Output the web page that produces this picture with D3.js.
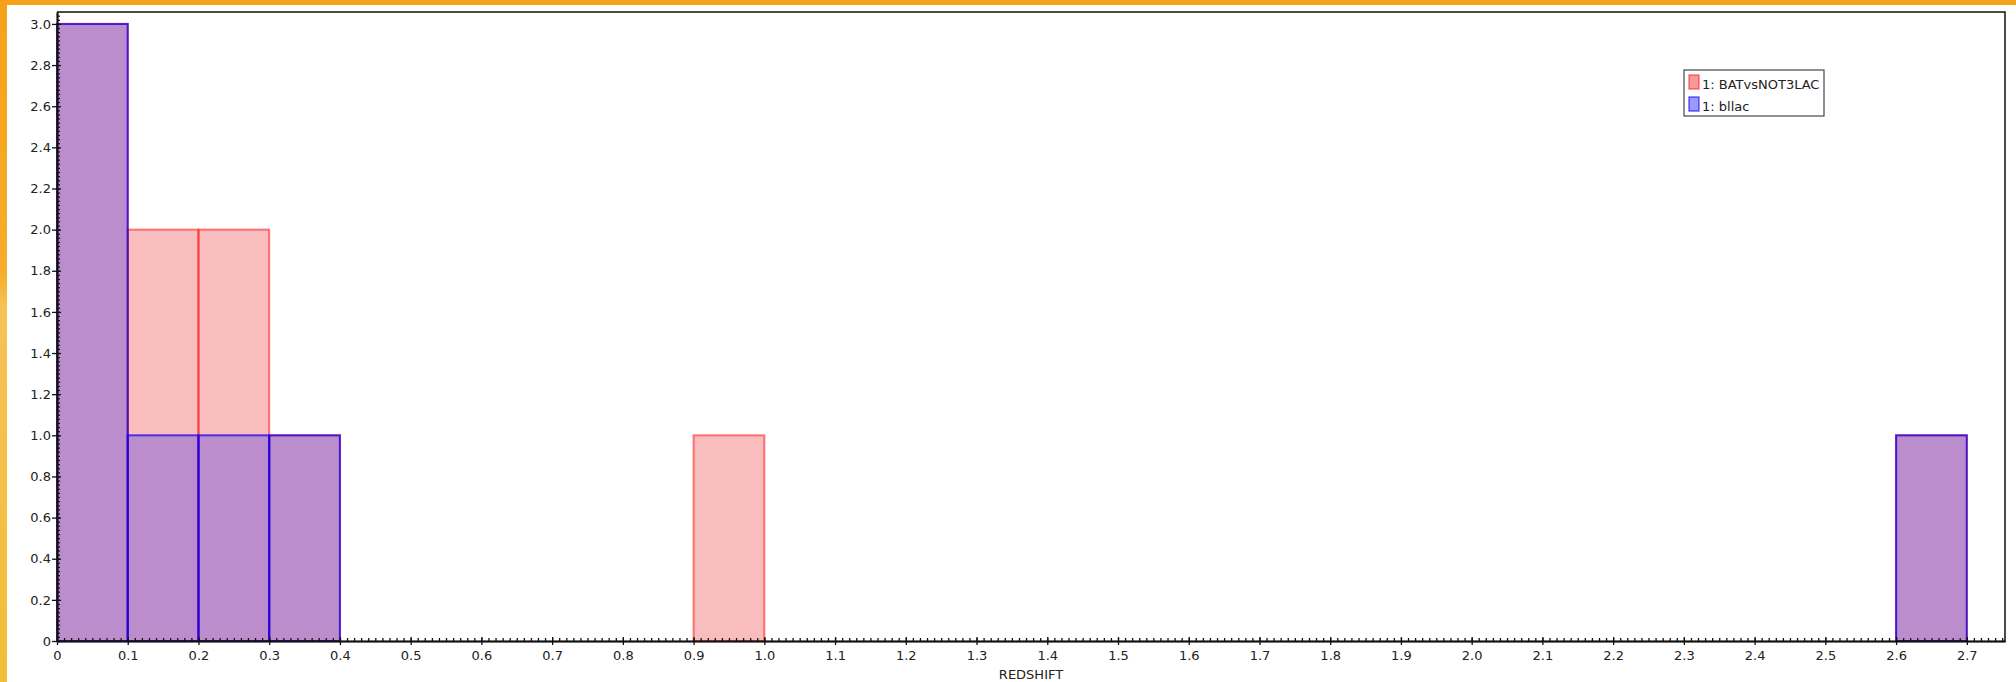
<!DOCTYPE html>
<html>
<head>
<meta charset="utf-8">
<script src="https://cdn.jsdelivr.net/npm/d3@7"></script>
<style>
  html, body { margin: 0; padding: 0; background: #fff; }
  svg { display: block; }
  text { font-family: "DejaVu Sans", sans-serif; fill: #222; }
</style>
</head>
<body>
<svg id="chart" width="2016" height="682"></svg>
<script>
// Histogram bins (lower edge of each 0.1-wide REDSHIFT bin)
const binLow = [0.0, 0.1, 0.2, 0.3, 0.9, 2.6];
const binWidth = 0.1;
// Counts per bin for each sample
const batCounts = [3, 2, 2, 1, 1, 1];     // 1: BATvsNOT3LAC
const bllacCounts = [3, 1, 1, 1, 0, 1];   // 1: bllac
const seriesNames = ["1: BATvsNOT3LAC", "1: bllac"];

// Axis ticks
const xTickValues = [0, 0.1, 0.2, 0.3, 0.4, 0.5, 0.6, 0.7, 0.8, 0.9, 1.0, 1.1, 1.2, 1.3,
  1.4, 1.5, 1.6, 1.7, 1.8, 1.9, 2.0, 2.1, 2.2, 2.3, 2.4, 2.5, 2.6, 2.7];
const xTickLabels = ["0", "0.1", "0.2", "0.3", "0.4", "0.5", "0.6", "0.7", "0.8", "0.9", "1.0",
  "1.1", "1.2", "1.3", "1.4", "1.5", "1.6", "1.7", "1.8", "1.9", "2.0", "2.1", "2.2", "2.3",
  "2.4", "2.5", "2.6", "2.7"];
const yTickValues = [0, 0.2, 0.4, 0.6, 0.8, 1.0, 1.2, 1.4, 1.6, 1.8, 2.0, 2.2, 2.4, 2.6, 2.8, 3.0];
const yTickLabels = ["0", "0.2", "0.4", "0.6", "0.8", "1.0", "1.2", "1.4", "1.6", "1.8", "2.0",
  "2.2", "2.4", "2.6", "2.8", "3.0"];
const xTitle = "REDSHIFT";

const svg = d3.select("#chart");
const W = 2016, H = 682;
const plot = { left: 57, right: 2005, top: 12, bottom: 641 };

// Window frame: orange strip across the top and down the left edge
const defs = svg.append("defs");
const grad = defs.append("linearGradient").attr("id", "frameGrad")
  .attr("x1", 0).attr("y1", 0).attr("x2", 0).attr("y2", 1);
grad.append("stop").attr("offset", "0%").attr("stop-color", "#f7a11a");
grad.append("stop").attr("offset", "40%").attr("stop-color", "#f6ad2a");
grad.append("stop").attr("offset", "45%").attr("stop-color", "#f6c255");
grad.append("stop").attr("offset", "100%").attr("stop-color", "#f4bd37");
svg.append("rect").attr("x", 0).attr("y", 0).attr("width", 7).attr("height", H)
  .attr("fill", "url(#frameGrad)");
svg.append("rect").attr("x", 0).attr("y", 0).attr("width", W).attr("height", 5)
  .attr("fill", "#f7a11a");

const x = d3.scaleLinear().domain([0, 2.754]).range([plot.left, plot.right]);
const y = d3.scaleLinear().domain([0, 3.058]).range([plot.bottom, plot.top]);

// Bars: BATvsNOT3LAC underneath, bllac drawn translucent on top
const bars = svg.append("g");
bars.selectAll("rect.bat").data(binLow.map((lo, i) => ({ lo, c: batCounts[i] })).filter(d => d.c > 0))
  .join("rect").attr("class", "bat")
  .attr("x", d => x(d.lo)).attr("width", d => x(d.lo + binWidth) - x(d.lo))
  .attr("y", d => y(d.c)).attr("height", d => y(0) - y(d.c))
  .attr("fill", "rgba(235,0,0,0.26)")
  .attr("stroke", "rgba(255,20,20,0.55)").attr("stroke-width", 2);
bars.selectAll("rect.bllac").data(binLow.map((lo, i) => ({ lo, c: bllacCounts[i] })).filter(d => d.c > 0))
  .join("rect").attr("class", "bllac")
  .attr("x", d => x(d.lo)).attr("width", d => x(d.lo + binWidth) - x(d.lo))
  .attr("y", d => y(d.c)).attr("height", d => y(0) - y(d.c))
  .attr("fill", "rgba(0,0,255,0.25)")
  .attr("stroke", "rgba(20,0,235,0.72)").attr("stroke-width", 2);

// Plot frame (top and right edges)
svg.append("path")
  .attr("d", `M${plot.left},${plot.top}H${plot.right}V${plot.bottom}`)
  .attr("fill", "none").attr("stroke", "#111").attr("stroke-width", 1.5);

// Minor tick positions
const xMinor = d3.range(0, 276).map(i => i / 100).filter(v => v <= 2.754);
const yMinor = d3.range(0, 153).map(i => i / 50).filter(v => v <= 3.058);

// X axis: labelled major ticks outward, plus inward major and minor ticks
const xAxisG = svg.append("g").attr("transform", `translate(0,${plot.bottom})`);
xAxisG.call(d3.axisBottom(x).tickValues(xTickValues)
  .tickFormat((d, i) => xTickLabels[i]).tickSizeInner(4).tickSizeOuter(0).tickPadding(6));
svg.append("g").attr("transform", `translate(0,${plot.bottom})`)
  .call(d3.axisTop(x).tickValues(xTickValues).tickFormat("").tickSizeInner(4).tickSizeOuter(0));
svg.append("g").attr("transform", `translate(0,${plot.bottom})`)
  .call(d3.axisTop(x).tickValues(xMinor).tickFormat("").tickSizeInner(3).tickSizeOuter(0));

// Y axis
const yAxisG = svg.append("g").attr("transform", `translate(${plot.left},0)`);
yAxisG.call(d3.axisLeft(y).tickValues(yTickValues)
  .tickFormat((d, i) => yTickLabels[i]).tickSizeInner(5).tickSizeOuter(0).tickPadding(1));
svg.append("g").attr("transform", `translate(${plot.left},0)`)
  .call(d3.axisRight(y).tickValues(yTickValues).tickFormat("").tickSizeInner(4).tickSizeOuter(0));
svg.append("g").attr("transform", `translate(${plot.left},0)`)
  .call(d3.axisRight(y).tickValues(yMinor).tickFormat("").tickSizeInner(3).tickSizeOuter(0));

svg.selectAll(".domain").attr("stroke", "#111").attr("stroke-width", 1.5);
svg.selectAll(".tick line").attr("stroke", "#111").attr("stroke-width", 1.3);
svg.selectAll(".tick text").style("font-family", "DejaVu Sans").style("font-size", "13px")
  .attr("fill", "#222");

// Axis title
svg.append("text").attr("x", (plot.left + plot.right) / 2).attr("y", 679)
  .attr("text-anchor", "middle").style("font-size", "13px").text(xTitle);

// Legend
const legend = svg.append("g").attr("transform", "translate(1684,70)");
legend.append("rect").attr("x", 0).attr("y", 0).attr("width", 140).attr("height", 46)
  .attr("fill", "#fff").attr("stroke", "#222").attr("stroke-width", 1);
const swatchFill = ["rgba(235,0,0,0.4)", "rgba(0,0,255,0.4)"];
const swatchStroke = ["rgba(255,20,20,0.55)", "rgba(20,0,235,0.6)"];
seriesNames.forEach((name, i) => {
  legend.append("rect").attr("x", 5).attr("y", 5 + i * 22).attr("width", 10).attr("height", 14)
    .attr("fill", swatchFill[i]).attr("stroke", swatchStroke[i]).attr("stroke-width", 1.5);
  legend.append("text").attr("x", 18).attr("y", 19 + i * 22)
    .style("font-size", "13px").text(name);
});
</script>
</body>
</html>
